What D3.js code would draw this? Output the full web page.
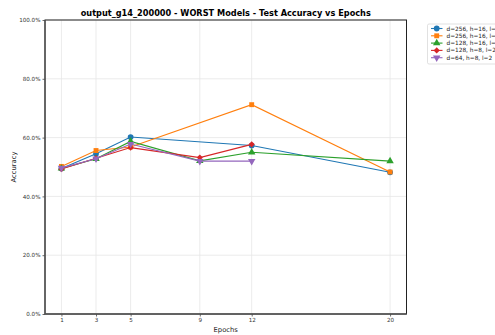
<!DOCTYPE html>
<html>
<head>
<meta charset="utf-8">
<script src="https://cdn.jsdelivr.net/npm/d3@7"></script>
<style>
  body { margin: 0; background: #fff; overflow: hidden; }
  svg { display: block; font-family: "DejaVu Sans", sans-serif; }
</style>
</head>
<body>
<script>
// chart data
var epochs = [1, 3, 5, 9, 12, 20];
var seriesNames = ["d=256, h=16, l=4", "d=256, h=16, l=2", "d=128, h=16, l=4", "d=128, h=8, l=2", "d=64, h=8, l=2"];
var accBlue   = [49.5, 54.5, 60.2, null, 57.3, 48.2];
var accOrange = [50.2, 55.6, 56.8, null, 71.2, 48.3];
var accGreen  = [49.5, 52.8, 58.7, 52.1, 55.0, 52.0];
var accRed    = [49.3, 53.0, 56.6, 53.2, 57.7, null];
var accPurple = [49.7, 52.8, 57.8, 52.0, 52.0, null];
var yTicks = [0, 20, 40, 60, 80, 100];

var colors = ["#1f77b4", "#ff7f0e", "#2ca02c", "#d62728", "#9467bd"];
var allSeries = [accBlue, accOrange, accGreen, accRed, accPurple];

var W = 495, H = 335;
var pLeft = 45, pRight = 406.5, pTop = 20, pBottom = 314;

var svg = d3.select("body").append("svg")
    .attr("width", W)
    .attr("height", H);

var x = d3.scaleLinear().domain([0.05, 20.95]).range([pLeft, pRight]);
var y = d3.scaleLinear().domain([0, 100]).range([pBottom, pTop]);

// grid
svg.append("g").selectAll("line")
    .data(epochs).enter().append("line")
    .attr("x1", function(d) { return x(d); })
    .attr("x2", function(d) { return x(d); })
    .attr("y1", pTop).attr("y2", pBottom)
    .style("stroke", "#e6e6e6").style("stroke-width", 0.8);
svg.append("g").selectAll("line")
    .data(yTicks).enter().append("line")
    .attr("x1", pLeft).attr("x2", pRight)
    .attr("y1", function(d) { return y(d); })
    .attr("y2", function(d) { return y(d); })
    .style("stroke", "#e6e6e6").style("stroke-width", 0.8);

// axes
var xAxis = d3.axisBottom(x).tickValues(epochs).tickSize(2.5).tickPadding(2);
var yAxis = d3.axisLeft(y).tickValues(yTicks).tickSize(2.5).tickPadding(2)
    .tickFormat(function(d) { return d.toFixed(1) + "%"; });

var gx = svg.append("g").attr("transform", "translate(0," + pBottom + ")").call(xAxis);
var gy = svg.append("g").attr("transform", "translate(" + pLeft + ",0)").call(yAxis);
[gx, gy].forEach(function(g) {
    g.select(".domain").remove();
    g.selectAll("text").style("font-size", "5.6px").style("fill", "#333").style("font-family", "DejaVu Sans");
    g.selectAll("line").style("stroke", "#444").style("stroke-width", 0.8);
});

// lines and markers
var line = d3.line()
    .x(function(d) { return x(d.e); })
    .y(function(d) { return y(d.v); });

var shapes = [
    { t: d3.symbolCircle, s: 26, r: 0 },
    { t: d3.symbolSquare, s: 24, r: 0 },
    { t: d3.symbolTriangle, s: 24, r: 0 },
    { t: d3.symbolSquare, s: 19, r: 45 },
    { t: d3.symbolTriangle, s: 24, r: 180 }
];

allSeries.forEach(function(vals, i) {
    var pts = [];
    vals.forEach(function(v, j) { if (v !== null) pts.push({ e: epochs[j], v: v }); });
    svg.append("path")
        .attr("d", line(pts))
        .style("fill", "none")
        .style("stroke", colors[i])
        .style("stroke-width", 1.1);
    svg.append("g").selectAll("path")
        .data(pts).enter().append("path")
        .attr("d", d3.symbol().type(shapes[i].t).size(shapes[i].s))
        .attr("transform", function(d) {
            return "translate(" + x(d.e) + "," + y(d.v) + ") rotate(" + shapes[i].r + ")";
        })
        .style("fill", colors[i]);
});

// frame
svg.append("rect")
    .attr("x", pLeft).attr("y", pTop)
    .attr("width", pRight - pLeft).attr("height", pBottom - pTop)
    .style("fill", "none").style("stroke", "#222").style("stroke-width", 1);
svg.append("path")
    .attr("d", "M" + pLeft + "," + pTop + "V" + pBottom + "H" + pRight)
    .style("fill", "none").style("stroke", "#555").style("stroke-width", 1.4);

// titles
svg.append("text")
    .attr("x", (pLeft + pRight) / 2).attr("y", 16.3)
    .attr("text-anchor", "middle")
    .style("font-size", "8.2px").style("font-weight", "bold")
    .text("output_g14_200000 - WORST Models - Test Accuracy vs Epochs");
svg.append("text")
    .attr("x", (pLeft + pRight) / 2).attr("y", 331.5)
    .attr("text-anchor", "middle")
    .style("font-size", "6.8px").style("fill", "#222")
    .text("Epochs");
svg.append("text")
    .attr("transform", "translate(16," + ((pTop + pBottom) / 2) + ") rotate(-90)")
    .attr("text-anchor", "middle")
    .style("font-size", "6.8px").style("fill", "#222")
    .text("Accuracy");

// legend
var lg = svg.append("g").attr("transform", "translate(427.5,24)");
lg.append("rect")
    .attr("x", 0).attr("y", 0).attr("width", 90).attr("height", 40)
    .attr("rx", 1.5)
    .style("fill", "#fff").style("stroke", "#ccc").style("stroke-width", 0.6);
seriesNames.forEach(function(n, i) {
    var yy = 4.5 + i * 7.3;
    lg.append("line")
        .attr("x1", 3.5).attr("x2", 15).attr("y1", yy).attr("y2", yy)
        .style("stroke", colors[i]).style("stroke-width", 1.1);
    lg.append("path")
        .attr("d", d3.symbol().type(shapes[i].t).size(shapes[i].s))
        .attr("transform", "translate(9.2," + yy + ") rotate(" + shapes[i].r + ")")
        .style("fill", colors[i]);
    lg.append("text")
        .attr("x", 19).attr("y", yy + 2)
        .style("font-size", "5.8px").style("fill", "#222")
        .text(n);
});
</script>
</body>
</html>
